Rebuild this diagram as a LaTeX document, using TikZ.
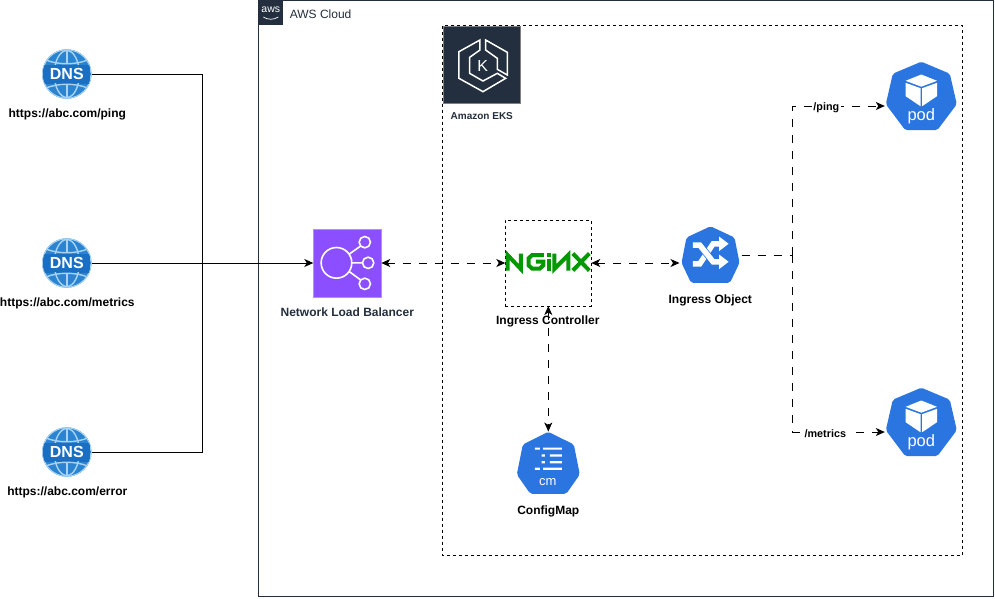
\documentclass[tikz,border=0pt]{standalone}
\usepackage{fontspec}
\setmainfont{Liberation Sans}
\usetikzlibrary{arrows.meta}
\definecolor{awsdark}{HTML}{232F3E}
\definecolor{nlbpurple}{HTML}{8C4FFF}
\definecolor{nlbedge}{HTML}{B58CFF}
\definecolor{ngx}{HTML}{009900}
\definecolor{dnsblue}{HTML}{2A84D2}
\definecolor{dnsdark}{HTML}{1B6FC2}
\definecolor{dnslight}{HTML}{A9D3F2}
\definecolor{kubeblue}{HTML}{2A75E0}
\tikzset{
  >={Stealth[length=9pt,width=8pt,inset=2.5pt]},
  boldlabel/.style={font=\fontsize{12}{14}\selectfont\bfseries,inner sep=0pt},
  slabel/.style={boldlabel,text=awsdark},
  pathlabel/.style={font=\fontsize{10.8}{13}\selectfont\bfseries,fill=white,inner sep=1.5pt},
  anchorbox/.style={inner sep=0pt,outer sep=0pt},
  wire/.style={line width=1pt,black},
  dashwire/.style={line width=1pt,black,dash pattern=on 8pt off 8pt},
  finedash/.style={line width=0.8pt,black,dash pattern=on 3pt off 3pt},
  dnsicon/.pic={
    \begin{scope}
      \fill[dnsblue] (0,0) circle (24.7);
      \draw[dnslight,line width=1pt] (0,0) circle (24.2);
      \clip (0,0) circle (24);
      \fill[dnsdark] (-24,-9.5) rectangle (24,9.5);
      \draw[dnslight,line width=1.4pt] (0,0) ellipse (12.5 and 23.5);
      \draw[dnslight,line width=1.4pt] (-21,-14) .. controls (-8,-9) and (8,-9) .. (21,-14);
      \draw[dnslight,line width=1.4pt] (-21,14) .. controls (-8,9) and (8,9) .. (21,14);
      \draw[dnslight,line width=1.4pt] (0,-24) -- (0,-10) (0,10) -- (0,24);
      \fill[dnsdark] (-19,-9) rectangle (19,9);
    \end{scope}
    \path (0,0) node[text=white,inner sep=0pt,font=\fontsize{16}{16}\selectfont\bfseries] {DNS};
  },
  podicon/.pic={
    \fill[kubeblue,rounded corners=2pt] (0,-0.5) -- (28.5,11.5) -- (35.5,42) -- (16,68) -- (-16,68) -- (-35.5,42) -- (-28.5,11.5) -- cycle;
    \fill[white] (0,12.3) -- (15.7,18.6) -- (0,24.5) -- (-15.7,18.6) -- cycle;
    \fill[white] (-15.7,20.6) -- (-0.8,26) -- (-0.8,44) -- (-15.7,34) -- cycle;
    \fill[white] (15.7,20.6) -- (0.8,26) -- (0.8,44) -- (15.7,34) -- cycle;
    \path (0,54) node[text=white,inner sep=0pt,font=\fontsize{16.5}{18}\selectfont] {pod};
  }
}
\begin{document}
\begin{tikzpicture}[x=1pt,y=-1pt]
\useasboundingbox (0.2,0.5) rectangle (995.2,598.5);
\fill[white] (0.2,0.5) rectangle (995.2,598.5);

% AWS Cloud group
\draw[awsdark,line width=1pt] (259,1) rectangle (993.5,597);
\fill[awsdark] (259,0.5) rectangle (283.5,25.5);
\node[text=white,anchorbox,font=\fontsize{10.5}{11}\selectfont] (awstag) at (271,10) {aws};
\draw[white,line width=0.7pt] (263.5,17.5) .. controls (268,20.5) and (274,20.5) .. (278.5,17.5);
\node[anchor=west,text=awsdark,anchorbox,font=\fontsize{12}{14}\selectfont] (cloudlabel) at (290,14.5) {AWS Cloud};

% EKS group
\draw[finedash] (443,26) rectangle (963,555.5);
\fill[awsdark] (443.5,26.5) rectangle (521,104);
\draw[gray,line width=0.8pt] (443.5,26.5) rectangle (521,104);
\begin{scope}[shift={(442.5,25.5)},x=0.3333pt,y=-0.3333pt]
  \draw[white,line width=1.5pt,line join=miter] (113,45) -- (50,80) -- (50,160) -- (122,200) -- (190,160) -- (165,145) -- (122,168) -- (82,145) -- (82,97) -- (113,75) -- cycle;
  \draw[white,line width=1.5pt,line join=miter] (130,45) -- (195,82) -- (195,150) -- (165,133) -- (165,100) -- (130,75) -- cycle;
\end{scope}
\node[text=white,anchorbox,font=\fontsize{16}{18}\selectfont] (klabel) at (483,66) {K};
\node[slabel,font=\fontsize{10}{12}\selectfont\bfseries] (ekslabel) at (482,116.5) {Amazon EKS};

% DNS icons
\node[circle,anchorbox,minimum size=50pt] (dns1) at (67,74.5) {};
\node[circle,anchorbox,minimum size=50pt] (dns2) at (67,263.5) {};
\node[circle,anchorbox,minimum size=50pt] (dns3) at (67,452.5) {};
\pic at (dns1.center) {dnsicon};
\pic at (dns2.center) {dnsicon};
\pic at (dns3.center) {dnsicon};
\node[boldlabel] (dns1label) at (67.5,115) {https://abc.com/ping};
\node[boldlabel] (dns2label) at (67.5,304) {https://abc.com/metrics};
\node[boldlabel] (dns3label) at (67.5,493) {https://abc.com/error};

% NLB
\node[anchorbox,fill=nlbpurple,draw=nlbedge,line width=0.8pt,minimum width=68pt,minimum height=68pt] (nlb) at (347.5,263.5) {};
\begin{scope}[shift={(310,226)},x=0.3333pt,y=-0.3333pt]
  \draw[white,line width=1.6pt] (80,112) circle (46) (165,50) circle (17) (175,112) circle (17) (165,175) circle (17);
  \draw[white,line width=1.6pt] (118,86) -- (152,62) (126,112) -- (158,112) (118,138) -- (152,163);
\end{scope}
\node[slabel] (nlblabel) at (347.5,312.7) {Network Load Balancer};

% Ingress controller
\node[anchorbox,minimum width=86pt,minimum height=86pt,draw,finedash] (nginx) at (548.5,263.5) {};
\begin{scope}[ngx,line width=4pt,line join=miter]
  \draw (507.8,271) -- (507.8,255.5) -- (521,269.5) -- (521,254);
  \draw (544,255.6) -- (532.3,255.6) -- (528.7,258.8) -- (528.7,265.8) -- (532.3,269) -- (540,269) -- (543.5,265.8) -- (543.5,262) -- (536,262);
  \draw (548.7,259) -- (548.7,271);
  \draw (554.5,254) -- (554.5,269.5) -- (568.5,255.5) -- (568.5,271);
  \draw (573,254) -- (589.5,271) (589.5,254) -- (573,271);
\end{scope}
\fill[ngx] (546.7,253.6) rectangle (550.7,257);
\node[boldlabel] (nginxlabel) at (548,322) {Ingress Controller};

% Ingress object
\node[anchorbox,minimum width=62pt,minimum height=56pt] (ingress) at (710.7,255.5) {};
\fill[kubeblue,rounded corners=2pt] (710.7,226.8) -- (734.7,238) -- (739.7,263.3) -- (730.2,283.3) -- (691.2,283.3) -- (681.7,263.3) -- (686.7,238) -- cycle;
\draw[white,line width=5.5pt] (693,264.3) -- (700,264.3) -- (713.3,244.3) -- (720,244.3);
\fill[white] (719.3,237) -- (728.8,244.3) -- (719.3,251.6) -- cycle;
\draw[kubeblue,line width=7pt] (699,245.7) -- (700,245.7) -- (713.3,262.3);
\draw[white,line width=5.5pt] (693,245.7) -- (700,245.7) -- (713.3,262.3) -- (720,262.3);
\fill[white] (719.3,255) -- (728.8,262.3) -- (719.3,269.6) -- cycle;
\node[boldlabel] (ingresslabel) at (710.5,301) {Ingress Object};

% Pods
\node[anchorbox,minimum width=73pt,minimum height=68pt] (pod1) at (921.5,106.5) {};
\node[anchorbox,minimum width=73pt,minimum height=68pt] (pod2) at (921.5,432.5) {};
\pic at (921.5,62.7) {podicon};
\pic at (921.5,388.7) {podicon};

% ConfigMap
\node[anchorbox,minimum width=63pt,minimum height=63pt] (cm) at (548.5,463.5) {};
\fill[kubeblue,rounded corners=2pt] (548.5,432.3) -- (574,445) -- (580,475) -- (566.5,494.3) -- (530.5,494.3) -- (517,475) -- (523,445) -- cycle;
\fill[white] (535,448) rectangle (540,450.2) (543.3,448) rectangle (562,450.2);
\fill[white] (541.7,454.8) rectangle (545,457) (550,454.8) rectangle (562,457);
\fill[white] (541.7,461.6) rectangle (545,463.8) (550,461.6) rectangle (562,463.8);
\fill[white] (535,468.2) rectangle (540,470.4) (543.3,468.2) rectangle (562,470.4);
\node[text=white,anchorbox,font=\fontsize{13}{14}\selectfont] (cmtext) at (548,482.5) {cm};
\node[boldlabel] (cmlabel) at (548.5,512) {ConfigMap};

% Connectors
\coordinate (junction) at (203,263.5);
\coordinate (fork) at (793,255.5);
\draw[wire] (dns1.east) -| (junction);
\draw[wire] (dns3.east) -| (junction);
\draw[wire,->] (dns2.east) -- (nlb.west);
\draw[dashwire,<->] (nlb.east) -- (nginx.west);
\draw[dashwire,<->] (nginx.east) -- ([yshift=-8pt]ingress.west);
\draw[dashwire,<->] (nginx.south) -- (cm.north);
\draw[dashwire] (ingress.east) -- (fork);
\draw[dashwire,->] (fork) |- (pod1.west);
\draw[dashwire,->] (fork) |- (pod2.west);
\node[pathlabel] (pinglabel) at (826.5,108.5) {/ping};
\node[pathlabel] (metricslabel) at (825.5,434.5) {/metrics};
\end{tikzpicture}
\end{document}
